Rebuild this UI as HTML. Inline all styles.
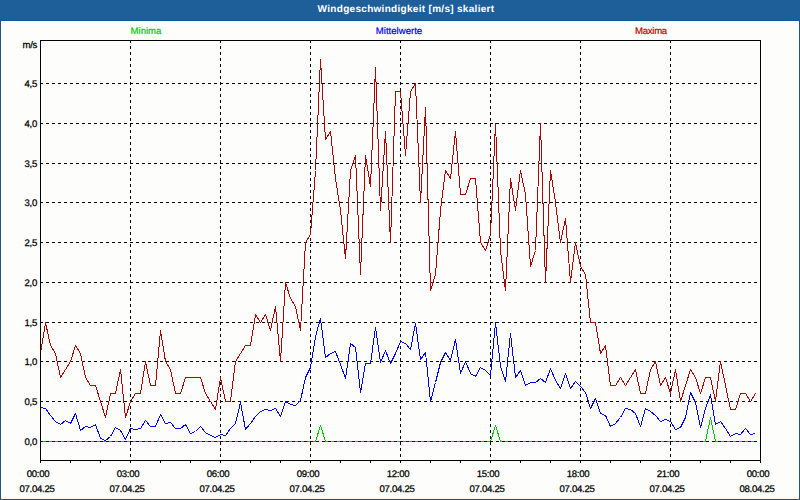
<!DOCTYPE html>
<html><head><meta charset="utf-8"><title>Windgeschwindigkeit</title>
<style>
html,body{margin:0;padding:0;}
body{width:800px;height:500px;overflow:hidden;background:#fdfefc;font-family:"Liberation Sans",sans-serif;position:relative;text-rendering:geometricPrecision;}
#win{position:absolute;left:0;top:0;width:798px;height:498px;border:1px solid #165790;background:#fdfefc;}
#bar{position:absolute;left:0;top:0;width:800px;height:20px;background:#1f5f99;border-bottom:1px solid #165790;}
#title{position:absolute;left:206px;top:3px;width:400px;text-align:center;color:#fff;font-weight:bold;font-size:10px;letter-spacing:0.3px;line-height:14px;white-space:nowrap;}
.lg{position:absolute;top:26px;font-size:9.6px;-webkit-text-stroke-width:0.2px;line-height:12px;white-space:nowrap;width:100px;text-align:center;}
.xl{position:absolute;width:60px;text-align:center;font-size:9.6px;letter-spacing:-0.3px;line-height:12px;color:#000;white-space:nowrap;-webkit-text-stroke:0.25px #000;}
.yl{position:absolute;left:0;width:37px;text-align:right;font-size:9.6px;letter-spacing:-0.3px;line-height:12px;color:#000;white-space:nowrap;-webkit-text-stroke:0.25px #000;}
</style></head><body>
<div id="win"></div>
<div id="bar"></div>
<div id="title">Windgeschwindigkeit [m/s] skaliert</div>
<div class="lg" style="left:96px;color:#00c800">Minima</div>
<div class="lg" style="left:349px;color:#0000ff">Mittelwerte</div>
<div class="lg" style="left:601px;color:#c00000;letter-spacing:-0.3px">Maxima</div>
<svg width="800" height="500" viewBox="0 0 800 500" style="position:absolute;left:0;top:0" shape-rendering="crispEdges">
<polyline points="40.5,441.5 45.5,441.5 50.5,441.5 55.5,441.5 60.5,441.5 65.5,441.5 70.5,441.5 75.5,441.5 80.5,441.5 85.5,441.5 90.5,441.5 95.5,441.5 100.5,441.5 105.5,441.5 110.5,441.5 115.5,441.5 120.5,441.5 125.5,441.5 130.5,441.5 135.5,441.5 140.5,441.5 145.5,441.5 150.5,441.5 155.5,441.5 160.5,441.5 165.5,441.5 170.5,441.5 175.5,441.5 180.5,441.5 185.5,441.5 190.5,441.5 195.5,441.5 200.5,441.5 205.5,441.5 210.5,441.5 215.5,441.5 220.5,441.5 225.5,441.5 230.5,441.5 235.5,441.5 240.5,441.5 245.5,441.5 250.5,441.5 255.5,441.5 260.5,441.5 265.5,441.5 270.5,441.5 275.5,441.5 280.5,441.5 285.5,441.5 290.5,441.5 295.5,441.5 300.5,441.5 305.5,441.5 310.5,441.5 315.5,441.5 320.5,425.5 325.5,441.5 330.5,441.5 335.5,441.5 340.5,441.5 345.5,441.5 350.5,441.5 355.5,441.5 360.5,441.5 365.5,441.5 370.5,441.5 375.5,441.5 380.5,441.5 385.5,441.5 390.5,441.5 395.5,441.5 400.5,441.5 405.5,441.5 410.5,441.5 415.5,441.5 420.5,441.5 425.5,441.5 430.5,441.5 435.5,441.5 440.5,441.5 445.5,441.5 450.5,441.5 455.5,441.5 460.5,441.5 465.5,441.5 470.5,441.5 475.5,441.5 480.5,441.5 485.5,441.5 490.5,441.5 495.5,425.5 500.5,441.5 505.5,441.5 510.5,441.5 515.5,441.5 520.5,441.5 525.5,441.5 530.5,441.5 535.5,441.5 540.5,441.5 545.5,441.5 550.5,441.5 555.5,441.5 560.5,441.5 565.5,441.5 570.5,441.5 575.5,441.5 580.5,441.5 585.5,441.5 590.5,441.5 595.5,441.5 600.5,441.5 605.5,441.5 610.5,441.5 615.5,441.5 620.5,441.5 625.5,441.5 630.5,441.5 635.5,441.5 640.5,441.5 645.5,441.5 650.5,441.5 655.5,441.5 660.5,441.5 665.5,441.5 670.5,441.5 675.5,441.5 680.5,441.5 685.5,441.5 690.5,441.5 695.5,441.5 700.5,441.5 705.5,441.5 710.5,417.5 715.5,441.5 720.5,441.5 725.5,441.5 730.5,441.5 735.5,441.5 740.5,441.5 745.5,441.5 750.5,441.5 755.5,441.5" fill="none" stroke="#00c800" stroke-width="1" stroke-linejoin="bevel"/>
<line x1="40" y1="441.5" x2="760" y2="441.5" stroke="#000" stroke-width="1" stroke-dasharray="3 3"/>
<line x1="40" y1="401.5" x2="760" y2="401.5" stroke="#000" stroke-width="1" stroke-dasharray="3 3"/>
<line x1="40" y1="361.5" x2="760" y2="361.5" stroke="#000" stroke-width="1" stroke-dasharray="3 3"/>
<line x1="40" y1="322.5" x2="760" y2="322.5" stroke="#000" stroke-width="1" stroke-dasharray="3 3"/>
<line x1="40" y1="282.5" x2="760" y2="282.5" stroke="#000" stroke-width="1" stroke-dasharray="3 3"/>
<line x1="40" y1="242.5" x2="760" y2="242.5" stroke="#000" stroke-width="1" stroke-dasharray="3 3"/>
<line x1="40" y1="202.5" x2="760" y2="202.5" stroke="#000" stroke-width="1" stroke-dasharray="3 3"/>
<line x1="40" y1="163.5" x2="760" y2="163.5" stroke="#000" stroke-width="1" stroke-dasharray="3 3"/>
<line x1="40" y1="123.5" x2="760" y2="123.5" stroke="#000" stroke-width="1" stroke-dasharray="3 3"/>
<line x1="40" y1="83.5" x2="760" y2="83.5" stroke="#000" stroke-width="1" stroke-dasharray="3 3"/>
<line x1="130.5" y1="40" x2="130.5" y2="460" stroke="#000" stroke-width="1" stroke-dasharray="3 3"/>
<line x1="220.5" y1="40" x2="220.5" y2="460" stroke="#000" stroke-width="1" stroke-dasharray="3 3"/>
<line x1="310.5" y1="40" x2="310.5" y2="460" stroke="#000" stroke-width="1" stroke-dasharray="3 3"/>
<line x1="400.5" y1="40" x2="400.5" y2="460" stroke="#000" stroke-width="1" stroke-dasharray="3 3"/>
<line x1="490.5" y1="40" x2="490.5" y2="460" stroke="#000" stroke-width="1" stroke-dasharray="3 3"/>
<line x1="580.5" y1="40" x2="580.5" y2="460" stroke="#000" stroke-width="1" stroke-dasharray="3 3"/>
<line x1="670.5" y1="40" x2="670.5" y2="460" stroke="#000" stroke-width="1" stroke-dasharray="3 3"/>
<polyline points="40.5,407.5 45.5,408.5 50.5,415.5 55.5,421.5 60.5,424.5 65.5,420.5 70.5,423.5 75.5,413.5 80.5,430.5 85.5,426.5 90.5,427.5 95.5,424.5 100.5,438.5 105.5,440.5 110.5,436.5 115.5,427.5 120.5,430.5 125.5,439.5 130.5,428.5 135.5,429.5 140.5,428.5 145.5,420.5 150.5,426.5 155.5,426.5 160.5,414.5 165.5,423.5 170.5,422.5 175.5,428.5 180.5,428.5 185.5,424.5 190.5,433.5 195.5,431.5 200.5,426.5 205.5,432.5 210.5,435.5 215.5,437.5 220.5,434.5 225.5,435.5 230.5,428.5 235.5,423.5 240.5,402.5 245.5,429.5 250.5,423.5 255.5,416.5 260.5,411.5 265.5,409.5 270.5,410.5 275.5,408.5 280.5,416.5 285.5,401.5 290.5,404.5 295.5,405.5 300.5,400.5 305.5,377.5 310.5,367.5 315.5,336.5 320.5,318.5 325.5,357.5 330.5,353.5 335.5,351.5 340.5,364.5 345.5,378.5 350.5,343.5 355.5,347.5 360.5,392.5 365.5,363.5 370.5,363.5 375.5,327.5 380.5,362.5 385.5,350.5 390.5,363.5 395.5,353.5 400.5,341.5 405.5,343.5 410.5,349.5 415.5,323.5 420.5,359.5 425.5,352.5 430.5,401.5 435.5,382.5 440.5,362.5 445.5,352.5 450.5,360.5 455.5,339.5 460.5,373.5 465.5,361.5 470.5,373.5 475.5,376.5 480.5,367.5 485.5,370.5 490.5,375.5 495.5,322.5 500.5,366.5 505.5,381.5 510.5,333.5 515.5,377.5 520.5,370.5 525.5,385.5 530.5,382.5 535.5,382.5 540.5,378.5 545.5,382.5 550.5,368.5 555.5,380.5 560.5,388.5 565.5,373.5 570.5,388.5 575.5,381.5 580.5,386.5 585.5,392.5 590.5,408.5 595.5,398.5 600.5,413.5 605.5,415.5 610.5,426.5 615.5,423.5 620.5,417.5 625.5,408.5 630.5,409.5 635.5,413.5 640.5,426.5 645.5,408.5 650.5,411.5 655.5,415.5 660.5,421.5 665.5,419.5 670.5,421.5 675.5,429.5 680.5,427.5 685.5,417.5 690.5,392.5 695.5,402.5 700.5,427.5 705.5,408.5 710.5,394.5 715.5,424.5 720.5,421.5 725.5,428.5 730.5,436.5 735.5,433.5 740.5,434.5 745.5,428.5 750.5,434.5 755.5,433.5" fill="none" stroke="#0000ff" stroke-width="1" stroke-linejoin="bevel"/>
<polyline points="40.5,353.5 45.5,322.5 50.5,345.5 55.5,353.5 60.5,377.5 65.5,369.5 70.5,361.5 75.5,345.5 80.5,353.5 85.5,377.5 90.5,385.5 95.5,385.5 100.5,401.5 105.5,417.5 110.5,393.5 115.5,393.5 120.5,369.5 125.5,417.5 130.5,401.5 135.5,393.5 140.5,393.5 145.5,361.5 150.5,385.5 155.5,385.5 160.5,330.5 165.5,361.5 170.5,369.5 175.5,393.5 180.5,393.5 185.5,377.5 190.5,377.5 195.5,377.5 200.5,377.5 205.5,393.5 210.5,401.5 215.5,409.5 220.5,377.5 225.5,401.5 230.5,401.5 235.5,361.5 240.5,353.5 245.5,345.5 250.5,345.5 255.5,314.5 260.5,322.5 265.5,314.5 270.5,330.5 275.5,306.5 280.5,361.5 285.5,282.5 290.5,298.5 295.5,306.5 300.5,330.5 305.5,242.5 310.5,234.5 315.5,170.5 320.5,59.5 325.5,139.5 330.5,131.5 335.5,178.5 340.5,210.5 345.5,258.5 350.5,170.5 355.5,155.5 360.5,274.5 365.5,155.5 370.5,186.5 375.5,67.5 380.5,210.5 385.5,131.5 390.5,242.5 395.5,91.5 400.5,91.5 405.5,155.5 410.5,91.5 415.5,83.5 420.5,202.5 425.5,107.5 430.5,290.5 435.5,274.5 440.5,210.5 445.5,170.5 450.5,178.5 455.5,131.5 460.5,194.5 465.5,194.5 470.5,178.5 475.5,178.5 480.5,242.5 485.5,250.5 490.5,234.5 495.5,123.5 500.5,250.5 505.5,290.5 510.5,178.5 515.5,210.5 520.5,170.5 525.5,194.5 530.5,266.5 535.5,250.5 540.5,123.5 545.5,282.5 550.5,170.5 555.5,202.5 560.5,242.5 565.5,218.5 570.5,282.5 575.5,242.5 580.5,266.5 585.5,274.5 590.5,322.5 595.5,322.5 600.5,353.5 605.5,345.5 610.5,385.5 615.5,385.5 620.5,377.5 625.5,385.5 630.5,377.5 635.5,369.5 640.5,393.5 645.5,393.5 650.5,369.5 655.5,361.5 660.5,385.5 665.5,377.5 670.5,393.5 675.5,369.5 680.5,401.5 685.5,385.5 690.5,369.5 695.5,377.5 700.5,393.5 705.5,377.5 710.5,377.5 715.5,401.5 720.5,361.5 725.5,385.5 730.5,409.5 735.5,409.5 740.5,393.5 745.5,393.5 750.5,401.5 755.5,393.5" fill="none" stroke="#b40000" stroke-width="1" stroke-linejoin="bevel"/>
<rect x="40.5" y="40.5" width="720" height="420" fill="none" stroke="#000" stroke-width="1"/>
<line x1="40.5" y1="461" x2="40.5" y2="463" stroke="#000" stroke-width="1"/>
<line x1="70.5" y1="461" x2="70.5" y2="463" stroke="#000" stroke-width="1"/>
<line x1="100.5" y1="461" x2="100.5" y2="463" stroke="#000" stroke-width="1"/>
<line x1="130.5" y1="461" x2="130.5" y2="463" stroke="#000" stroke-width="1"/>
<line x1="160.5" y1="461" x2="160.5" y2="463" stroke="#000" stroke-width="1"/>
<line x1="190.5" y1="461" x2="190.5" y2="463" stroke="#000" stroke-width="1"/>
<line x1="220.5" y1="461" x2="220.5" y2="463" stroke="#000" stroke-width="1"/>
<line x1="250.5" y1="461" x2="250.5" y2="463" stroke="#000" stroke-width="1"/>
<line x1="280.5" y1="461" x2="280.5" y2="463" stroke="#000" stroke-width="1"/>
<line x1="310.5" y1="461" x2="310.5" y2="463" stroke="#000" stroke-width="1"/>
<line x1="340.5" y1="461" x2="340.5" y2="463" stroke="#000" stroke-width="1"/>
<line x1="370.5" y1="461" x2="370.5" y2="463" stroke="#000" stroke-width="1"/>
<line x1="400.5" y1="461" x2="400.5" y2="463" stroke="#000" stroke-width="1"/>
<line x1="430.5" y1="461" x2="430.5" y2="463" stroke="#000" stroke-width="1"/>
<line x1="460.5" y1="461" x2="460.5" y2="463" stroke="#000" stroke-width="1"/>
<line x1="490.5" y1="461" x2="490.5" y2="463" stroke="#000" stroke-width="1"/>
<line x1="520.5" y1="461" x2="520.5" y2="463" stroke="#000" stroke-width="1"/>
<line x1="550.5" y1="461" x2="550.5" y2="463" stroke="#000" stroke-width="1"/>
<line x1="580.5" y1="461" x2="580.5" y2="463" stroke="#000" stroke-width="1"/>
<line x1="610.5" y1="461" x2="610.5" y2="463" stroke="#000" stroke-width="1"/>
<line x1="640.5" y1="461" x2="640.5" y2="463" stroke="#000" stroke-width="1"/>
<line x1="670.5" y1="461" x2="670.5" y2="463" stroke="#000" stroke-width="1"/>
<line x1="700.5" y1="461" x2="700.5" y2="463" stroke="#000" stroke-width="1"/>
<line x1="730.5" y1="461" x2="730.5" y2="463" stroke="#000" stroke-width="1"/>
<line x1="760.5" y1="461" x2="760.5" y2="463" stroke="#000" stroke-width="1"/>
</svg>
<div class="xl" style="left:8px;top:469px">00:00</div>
<div class="xl" style="left:7px;top:484px">07.04.25</div>
<div class="xl" style="left:98px;top:469px">03:00</div>
<div class="xl" style="left:97px;top:484px">07.04.25</div>
<div class="xl" style="left:188px;top:469px">06:00</div>
<div class="xl" style="left:187px;top:484px">07.04.25</div>
<div class="xl" style="left:278px;top:469px">09:00</div>
<div class="xl" style="left:277px;top:484px">07.04.25</div>
<div class="xl" style="left:368px;top:469px">12:00</div>
<div class="xl" style="left:367px;top:484px">07.04.25</div>
<div class="xl" style="left:458px;top:469px">15:00</div>
<div class="xl" style="left:457px;top:484px">07.04.25</div>
<div class="xl" style="left:548px;top:469px">18:00</div>
<div class="xl" style="left:547px;top:484px">07.04.25</div>
<div class="xl" style="left:638px;top:469px">21:00</div>
<div class="xl" style="left:637px;top:484px">07.04.25</div>
<div class="xl" style="left:728px;top:469px">00:00</div>
<div class="xl" style="left:727px;top:484px">08.04.25</div>
<div class="yl" style="top:437.0px">0,0</div>
<div class="yl" style="top:397.0px">0,5</div>
<div class="yl" style="top:357.0px">1,0</div>
<div class="yl" style="top:318.0px">1,5</div>
<div class="yl" style="top:278.0px">2,0</div>
<div class="yl" style="top:238.0px">2,5</div>
<div class="yl" style="top:198.0px">3,0</div>
<div class="yl" style="top:159.0px">3,5</div>
<div class="yl" style="top:119.0px">4,0</div>
<div class="yl" style="top:79.0px">4,5</div>
<div class="yl" style="top:40px">m/s</div>
</body></html>
